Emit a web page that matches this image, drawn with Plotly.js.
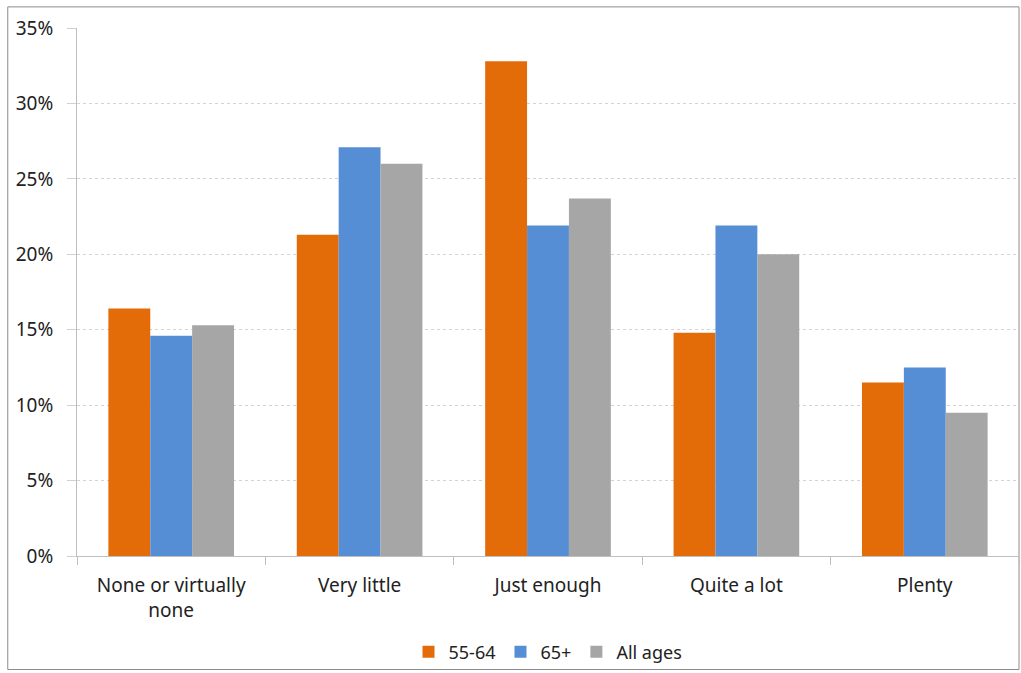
<!DOCTYPE html>
<html>
<head>
<meta charset="utf-8">
<script src="https://cdn.plot.ly/plotly-3.0.1.min.js"></script>
<style>
html,body{margin:0;padding:0;background:#fff;}
#chart{width:1021px;height:673px;}
</style>
</head>
<body>
<div id="chart"></div>
<script>
const categories = ["None or virtually<br>none", "Very little", "Just enough", "Quite a lot", "Plenty"];
const seriesNames = ["55-64", "65+", "All ages"];
const values5564 = [16.4, 21.3, 32.8, 14.8, 11.5];
const values65plus = [14.6, 27.1, 21.9, 21.9, 12.5];
const valuesAll = [15.3, 26.0, 23.7, 20.0, 9.5];
const yTickVals = [0, 5, 10, 15, 20, 25, 30, 35];
const yTickText = ["0%", "5%", "10%", "15%", "20%", "25%", "30%", "35%"];

const colors = ["#E36C09", "#558ED5", "#A6A6A6"];
const allValues = [values5564, values65plus, valuesAll];

const traces = allValues.map((v, i) => ({
  type: "bar",
  name: seriesNames[i],
  x: categories,
  y: v,
  marker: {color: colors[i], line: {width: 0}},
  hoverinfo: "x+y+name"
}));

const font = {family: "Noto Sans, sans-serif", size: 19, color: "#222"};

const layout = {
  width: 1021,
  height: 673,
  margin: {l: 77, r: 2, t: 28, b: 117},
  paper_bgcolor: "#fff",
  plot_bgcolor: "#fff",
  font: font,
  barmode: "group",
  bargap: 0.333,
  bargroupgap: 0,
  showlegend: true,
  legend: {
    orientation: "h",
    x: 0.5, xanchor: "center",
    y: -0.182, yanchor: "middle",
    bgcolor: "rgba(0,0,0,0)",
    font: {family: "Noto Sans, sans-serif", size: 18, color: "#222"},
    itemwidth: 30,
    traceorder: "normal"
  },
  xaxis: {
    type: "category",
    showline: true,
    linecolor: "#bfbfbf",
    linewidth: 1,
    ticks: "outside",
    tickson: "boundaries",
    ticklen: 8,
    tickcolor: "#bfbfbf",
    showgrid: false,
    tickfont: font,
    ticklabelstandoff: 12,
    automargin: false
  },
  yaxis: {
    range: [0, 35],
    tickvals: yTickVals,
    ticktext: yTickText,
    showline: true,
    linecolor: "#bfbfbf",
    linewidth: 1,
    ticks: "outside",
    ticklen: 9,
    tickcolor: "#d0d0d0",
    showgrid: true,
    gridcolor: "#d3d3d3",
    griddash: "dot",
    gridwidth: 1,
    zeroline: false,
    tickfont: font,
    ticklabelstandoff: 10,
    automargin: false
  },
  shapes: [{
    type: "rect", xref: "paper", yref: "paper",
    x0: -0.0735, x1: 1.0, y0: -0.215, y1: 1.04,
    line: {color: "#8c8c8c", width: 1},
    fillcolor: "rgba(0,0,0,0)",
    layer: "below"
  }]
};

Plotly.newPlot("chart", traces, layout, {displayModeBar: false, staticPlot: true});
</script>
</body>
</html>
